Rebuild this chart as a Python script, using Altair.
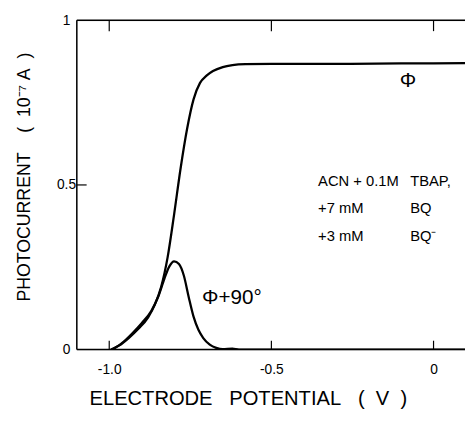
import altair as alt
import pandas as pd

# Curve Φ (in-phase)
phi_x = [-0.995, -0.97, -0.94, -0.91, -0.88, -0.86, -0.84, -0.82, -0.80, -0.78, -0.76,
         -0.74, -0.72, -0.70, -0.68, -0.65, -0.62, -0.58, -0.50, -0.30, -0.10, 0.10]
phi_y = [0.0, 0.012, 0.035, 0.063, 0.098, 0.135, 0.19, 0.28, 0.41, 0.55, 0.67,
         0.76, 0.81, 0.832, 0.846, 0.858, 0.864, 0.867, 0.868, 0.868, 0.869, 0.870]

# Curve Φ+90°
q_x = [-0.99, -0.96, -0.93, -0.90, -0.87, -0.85, -0.83, -0.815, -0.80, -0.785, -0.77,
       -0.755, -0.74, -0.725, -0.71, -0.69, -0.67, -0.65, -0.62, -0.60, -0.30, 0.10]
q_y = [0.0, 0.02, 0.048, 0.08, 0.118, 0.158, 0.215, 0.252, 0.268, 0.26, 0.225,
       0.16, 0.10, 0.06, 0.035, 0.015, 0.005, 0.001, 0.003, 0.0, 0.0, 0.0]

x_ticks = [-1.0, -0.5, 0.0]
y_ticks = [0.5]

ann_text = ["Φ", "Φ+90°", "ACN + 0.1M", "TBAP,", "+7 mM", "BQ", "+3 mM", "BQ⁻"]
ann_x = [-0.104, -0.714, -0.356, -0.072, -0.356, -0.072, -0.356, -0.072]
ann_y = [0.815, 0.155, 0.513, 0.513, 0.43, 0.43, 0.346, 0.346]
ann_size = [21, 21, 15, 15, 15, 15, 15, 15]

W, H = 395, 335
FONT = "Liberation Sans"

curves = pd.concat([
    pd.DataFrame({"v": phi_x, "i": phi_y, "s": "phi"}),
    pd.DataFrame({"v": q_x, "i": q_y, "s": "phi90"}),
])
ann = pd.DataFrame({"t": ann_text, "v": ann_x, "i": ann_y, "fs": ann_size})
xt = pd.DataFrame({"v": x_ticks})
yt = pd.DataFrame({"i": y_ticks})

xscale = alt.Scale(domain=[-1.1, 0.097], nice=False, zero=False)
yscale = alt.Scale(domain=[0, 1], nice=False)

NB = "\u00a0"
lines = alt.Chart(curves).mark_line(color="black", strokeWidth=2.3, interpolate="monotone", clip=True).encode(
    x=alt.X("v:Q", scale=xscale,
            axis=alt.Axis(values=x_ticks, ticks=False, domain=False, grid=False,
                          labelExpr="datum.value == 0 ? '0' : '-' + format(abs(datum.value), '.1f')",
                          labelFont=FONT, labelFontSize=14, labelColor="black", labelPadding=13,
                          title=f"ELECTRODE{NB}{NB}{NB}POTENTIAL{NB}{NB}{NB}({NB}{NB}V{NB}{NB})",
                          titleFont=FONT, titleFontSize=20.5, titleFontWeight="normal", titleColor="black",
                          titleX=174, titleY=56, titleBaseline="alphabetic")),
    y=alt.Y("i:Q", scale=yscale,
            axis=alt.Axis(values=[0, 0.5, 1], ticks=False, domain=False, grid=False,
                          labelExpr="'' + datum.value", labelAlign="center",
                          labelFont=FONT, labelFontSize=14, labelColor="black", labelPadding=11,
                          title=f"PHOTOCURRENT{NB}{NB}{NB}{NB}({NB}{NB}10⁻⁷{NB}A{NB}{NB})",
                          titleFont=FONT, titleFontSize=18, titleFontWeight="normal", titleColor="black",
                          titleX=-44, titleY=159)),
    detail="s:N",
)

frame_left = alt.Chart(pd.DataFrame({"a": [0]})).mark_rule(color="black", strokeWidth=1.5).encode(
    x=alt.value(0), y=alt.value(0), y2=alt.value(H))
frame_top = alt.Chart(pd.DataFrame({"a": [0]})).mark_rule(color="black", strokeWidth=1.5).encode(
    x=alt.value(0), x2=alt.value(W), y=alt.value(0))
frame_bot = alt.Chart(pd.DataFrame({"a": [0]})).mark_rule(color="black", strokeWidth=1.5).encode(
    x=alt.value(0), x2=alt.value(W), y=alt.value(H))

ticks_bot = alt.Chart(xt).mark_rule(color="black", strokeWidth=1.2).encode(
    x=alt.X("v:Q", scale=xscale), y=alt.value(H), y2=alt.value(H - 9))
ticks_top = alt.Chart(xt).mark_rule(color="black", strokeWidth=1.2).encode(
    x=alt.X("v:Q", scale=xscale), y=alt.value(0), y2=alt.value(11))
ticks_y = alt.Chart(yt).mark_rule(color="black", strokeWidth=1.2).encode(
    y=alt.Y("i:Q", scale=yscale), x=alt.value(0), x2=alt.value(10))

texts = alt.Chart(ann).mark_text(align="left", baseline="middle", font=FONT, color="black").encode(
    x=alt.X("v:Q", scale=xscale), y=alt.Y("i:Q", scale=yscale), text="t:N",
    size=alt.Size("fs:Q", scale=None, legend=None))

chart = alt.layer(lines, frame_left, frame_top, frame_bot, ticks_bot, ticks_top, ticks_y, texts).properties(
    width=W, height=H,
    autosize=alt.AutoSizeParams(type="none"),
    padding={"left": 70, "top": 9, "right": 0, "bottom": 61},
).configure_view(stroke=None).configure(background="white")

chart.save("out.html", embed_options={"renderer": "svg", "actions": False})
